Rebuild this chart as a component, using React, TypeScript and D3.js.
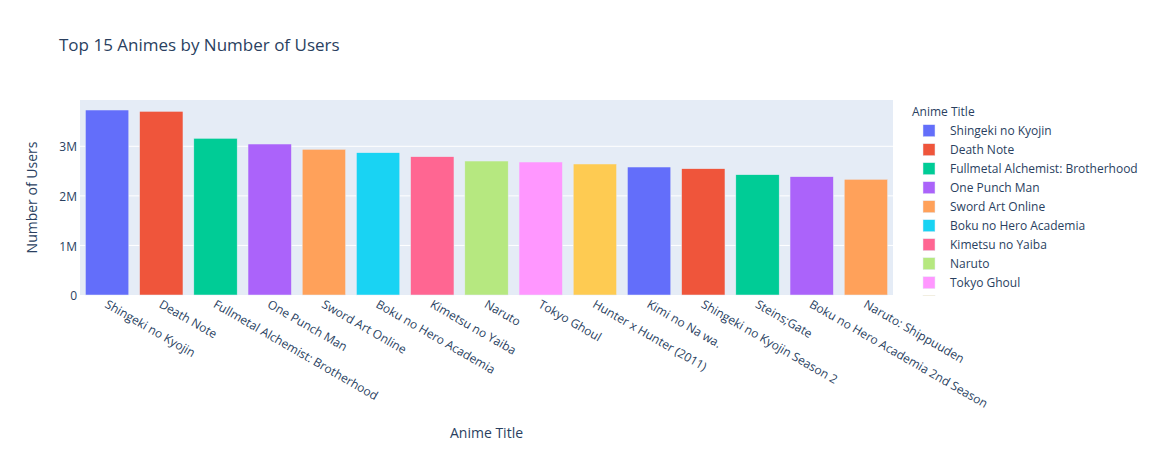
import React, { useEffect } from "react";
import * as d3 from "d3";

const titles = [
  "Shingeki no Kyojin",
  "Death Note",
  "Fullmetal Alchemist: Brotherhood",
  "One Punch Man",
  "Sword Art Online",
  "Boku no Hero Academia",
  "Kimetsu no Yaiba",
  "Naruto",
  "Tokyo Ghoul",
  "Hunter x Hunter (2011)",
  "Kimi no Na wa.",
  "Shingeki no Kyojin Season 2",
  "Steins;Gate",
  "Boku no Hero Academia 2nd Season",
  "Naruto: Shippuuden",
];

const users = [
  3732000, 3705000, 3161000, 3046000, 2939000, 2871000, 2790000, 2703000,
  2683000, 2643000, 2582000, 2548000, 2427000, 2387000, 2334000,
];

const yTicks = [0, 1000000, 2000000, 3000000];

const palette = [
  "#636efa", "#EF553B", "#00cc96", "#ab63fa", "#FFA15A",
  "#19d3f3", "#FF6692", "#B6E880", "#FF97FF", "#FECB52",
];

const W = 1170;
const H = 450;
const M = { left: 80, right: 893, top: 100, bottom: 295 };
const FONT = '"Open Sans", verdana, arial, sans-serif';
const TXT = "#2a3f5f";

export default function App() {
  useEffect(() => {
    document.body.style.margin = "0";
  }, []);

  const x = d3.scaleBand<string>().domain(titles).range([M.left, M.right]).paddingInner(0.2).paddingOuter(0.1);
  const y = d3.scaleLinear().domain([0, 3934000]).range([M.bottom, M.top]);
  const fmt = (v: number) => (v === 0 ? "0" : `${v / 1e6}M`);

  return (
    <svg width={W} height={H} style={{ display: "block", fontFamily: FONT }}>
      <rect x={0} y={0} width={W} height={H} fill="#fff" />
      <rect x={M.left} y={M.top} width={M.right - M.left} height={M.bottom - M.top} fill="#E5ECF6" />
      {yTicks.filter((t) => t > 0).map((t) => (
        <line key={t} x1={M.left} x2={M.right} y1={y(t)} y2={y(t)} stroke="#fff" strokeWidth={1} />
      ))}
      {titles.map((t, i) => (
        <rect
          key={t}
          x={x(t)}
          y={y(users[i])}
          width={x.bandwidth()}
          height={y(0) - y(users[i])}
          fill={palette[i % palette.length]}
          stroke="#E5ECF6"
          strokeWidth={0.5}
        />
      ))}
      {yTicks.map((t) => (
        <text key={t} x={77} y={y(t) + 1} dy="0.35em" textAnchor="end" fontSize={12} fill={TXT}>
          {fmt(t)}
        </text>
      ))}
      {titles.map((t) => {
        const cx = (x(t) as number) + x.bandwidth() / 2;
        return (
          <text
            key={t}
            transform={`translate(${cx - 1},${M.bottom + 8}) rotate(30)`}
            dy="0.35em"
            textAnchor="start"
            fontSize={12}
            fill={TXT}
          >
            {t}
          </text>
        );
      })}
      <text x={59} y={51} fontSize={17} fill={TXT}>
        Top 15 Animes by Number of Users
      </text>
      <text
        transform={`translate(37,${(M.top + M.bottom) / 2}) rotate(-90)`}
        textAnchor="middle"
        fontSize={14}
        fill={TXT}
      >
        Number of Users
      </text>
      <text x={(M.left + M.right) / 2} y={438} textAnchor="middle" fontSize={14} fill={TXT}>
        Anime Title
      </text>
      <defs>
        <clipPath id="legclip">
          <rect x={894} y={98} width={276} height={198} />
        </clipPath>
      </defs>
      <g clipPath="url(#legclip)">
        <text x={912} y={111.7} dy="0.35em" fontSize={12} fill={TXT}>
          Anime Title
        </text>
        {titles.map((t, i) => {
          const cy = 130.7 + i * 19;
          return (
            <g key={t}>
              <rect x={923} y={cy - 6} width={12} height={12} fill={palette[i % palette.length]} stroke="#E5ECF6" strokeWidth={0.5} />
              <text x={950} y={cy} dy="0.35em" fontSize={12} fill={TXT}>
                {t}
              </text>
            </g>
          );
        })}
      </g>
    </svg>
  );
}
